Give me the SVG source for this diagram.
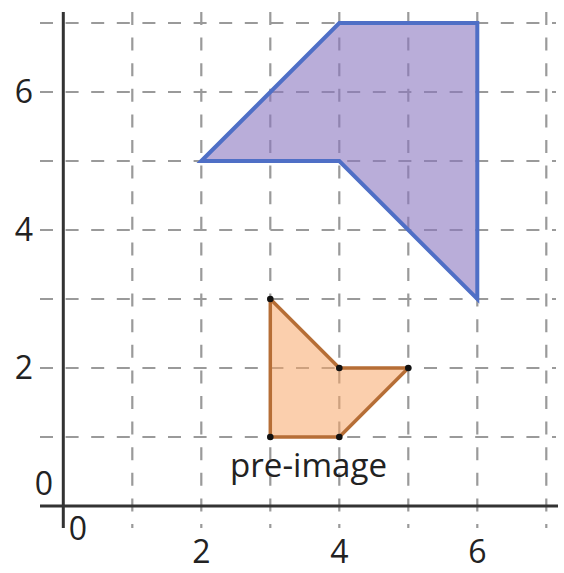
<svg xmlns="http://www.w3.org/2000/svg" width="564" height="573" viewBox="0 0 564 573">
<style>
.grid line{stroke:#9a9a9a;stroke-width:2.2;stroke-dasharray:13 12.6;fill:none}
.axis{stroke:#333;stroke-width:3;fill:none}
text{font-family:"Open Sans","Noto Sans","Liberation Sans",sans-serif;font-size:32px;fill:#222}
.lbl{text-anchor:middle}
.dot{fill:#111}
</style>
<rect width="564" height="573" fill="#fff"/>
<g id="grid" class="grid">
<line x1="40" y1="23" x2="556" y2="23"/>
<line x1="40" y1="92" x2="556" y2="92"/>
<line x1="40" y1="161" x2="556" y2="161"/>
<line x1="40" y1="230" x2="556" y2="230"/>
<line x1="40" y1="299" x2="556" y2="299"/>
<line x1="40" y1="368" x2="556" y2="368"/>
<line x1="40" y1="437" x2="556" y2="437"/>
<line x1="132.3" y1="12" x2="132.3" y2="528"/>
<line x1="201.3" y1="12" x2="201.3" y2="528"/>
<line x1="270.3" y1="12" x2="270.3" y2="528"/>
<line x1="339.3" y1="12" x2="339.3" y2="528"/>
<line x1="408.3" y1="12" x2="408.3" y2="528"/>
<line x1="477.3" y1="12" x2="477.3" y2="528"/>
<line x1="546.3" y1="12" x2="546.3" y2="528"/>
</g>
<g id="axes">
<line class="axis" x1="63.3" y1="12" x2="63.3" y2="528"/>
<line class="axis" x1="40" y1="506" x2="558" y2="506"/>
</g>
<g id="image">
<polygon points="201.3,161 339.3,23 477.3,23 477.3,299 339.3,161" fill="#8a76c0" fill-opacity="0.6" stroke="#4f6fc6" stroke-width="4" stroke-linejoin="miter"/>
</g>
<g id="preimage">
<polygon points="270.3,299 339.3,368 408.3,368 339.3,437 270.3,437" fill="#f7a86a" fill-opacity="0.55" stroke="#b66e36" stroke-width="3.5" stroke-linejoin="round"/>
<circle class="dot" cx="270.3" cy="299" r="3.3"/>
<circle class="dot" cx="339.3" cy="368" r="3.3"/>
<circle class="dot" cx="408.3" cy="368" r="3.3"/>
<circle class="dot" cx="339.3" cy="437" r="3.3"/>
<circle class="dot" cx="270.3" cy="437" r="3.3"/>
</g>
<g id="labels">
<text class="lbl" x="24" y="103">6</text>
<text class="lbl" x="24" y="241">4</text>
<text class="lbl" x="24" y="379">2</text>
<text class="lbl" x="44" y="495">0</text>
<text class="lbl" x="78" y="540">0</text>
<text class="lbl" x="201.5" y="563">2</text>
<text class="lbl" x="339.5" y="563">4</text>
<text class="lbl" x="477.5" y="563">6</text>
<text x="230" y="477" textLength="157" lengthAdjust="spacingAndGlyphs">pre-image</text>
</g>
</svg>
